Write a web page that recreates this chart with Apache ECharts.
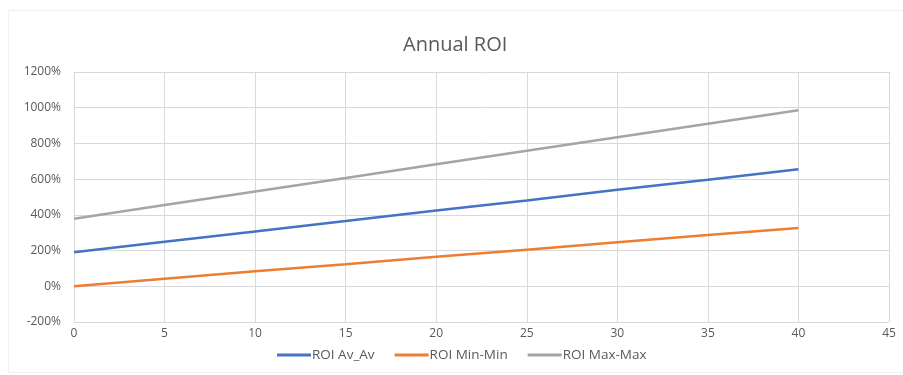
<!DOCTYPE html>
<html>
<head>
<meta charset="utf-8">
<script src="https://cdn.jsdelivr.net/npm/echarts@6/dist/echarts.min.js"></script>
<style>
  html, body { margin: 0; padding: 0; background: #fff; }
  #chart { width: 903px; height: 375px; }
</style>
</head>
<body>
<div id="chart"></div>
<script>
// Years since start
const years = [0, 5, 10, 15, 20, 25, 30, 35, 40];
// Annual ROI, in percent
const roiAvAv   = [190, 249, 307, 365, 424, 481, 540, 597, 656];
const roiMinMin = [0, 42, 84, 124, 165, 205, 246, 287, 327];
const roiMaxMax = [378, 455, 531, 606, 684, 759, 835, 910, 986];

const seriesNames = ['ROI Av_Av', 'ROI Min-Min', 'ROI Max-Max'];
const seriesColors = ['#4472C4', '#ED7D31', '#A5A5A5'];

const pairs = (ys) => years.map((x, i) => [x, ys[i]]);
const textColor = '#595959';
const gridColor = '#D9D9D9';
const font = '"Open Sans", "Noto Sans", sans-serif';

const chart = echarts.init(document.getElementById('chart'), null, { renderer: 'canvas' });
chart.setOption({
  animation: false,
  backgroundColor: '#fff',
  textStyle: { fontFamily: font },
  graphic: [{
    type: 'rect',
    shape: { x: 8.5, y: 10.5, width: 1000, height: 362 },
    style: { fill: 'none', stroke: '#F0F0F0', lineWidth: 1 },
    silent: true
  }],
  title: {
    text: 'Annual ROI',
    left: 398,
    top: 30,
    textStyle: { color: textColor, fontSize: 20, fontWeight: 'normal', fontFamily: font }
  },
  legend: {
    bottom: 8,
    left: 272,
    icon: 'rect',
    itemWidth: 34,
    itemHeight: 3,
    itemGap: 20,
    textStyle: { color: textColor, fontSize: 13.5, fontFamily: font, padding: [0, 0, 0, -4] },
    data: seriesNames
  },
  grid: { left: 74, right: 14, top: 72, bottom: 53, containLabel: false },
  xAxis: {
    type: 'value',
    min: 0, max: 45, interval: 5,
    axisLine: { show: true, onZero: true, lineStyle: { color: gridColor } },
    axisTick: { show: false },
    axisLabel: { color: textColor, fontSize: 12, margin: 6 },
    splitLine: { show: true, lineStyle: { color: gridColor } }
  },
  yAxis: {
    type: 'value',
    min: -200, max: 1200, interval: 200,
    axisLine: { show: false },
    axisTick: { show: false },
    axisLabel: { color: textColor, fontSize: 12, margin: 13, formatter: (v) => v + '%' },
    splitLine: { show: true, lineStyle: { color: gridColor } }
  },
  series: [
    { name: seriesNames[0], data: pairs(roiAvAv) },
    { name: seriesNames[1], data: pairs(roiMinMin) },
    { name: seriesNames[2], data: pairs(roiMaxMax) }
  ].map((s, i) => ({
    ...s,
    type: 'line',
    showSymbol: false,
    symbol: 'none',
    color: seriesColors[i],
    lineStyle: { width: 2.5, color: seriesColors[i] }
  }))
});
</script>
</body>
</html>
